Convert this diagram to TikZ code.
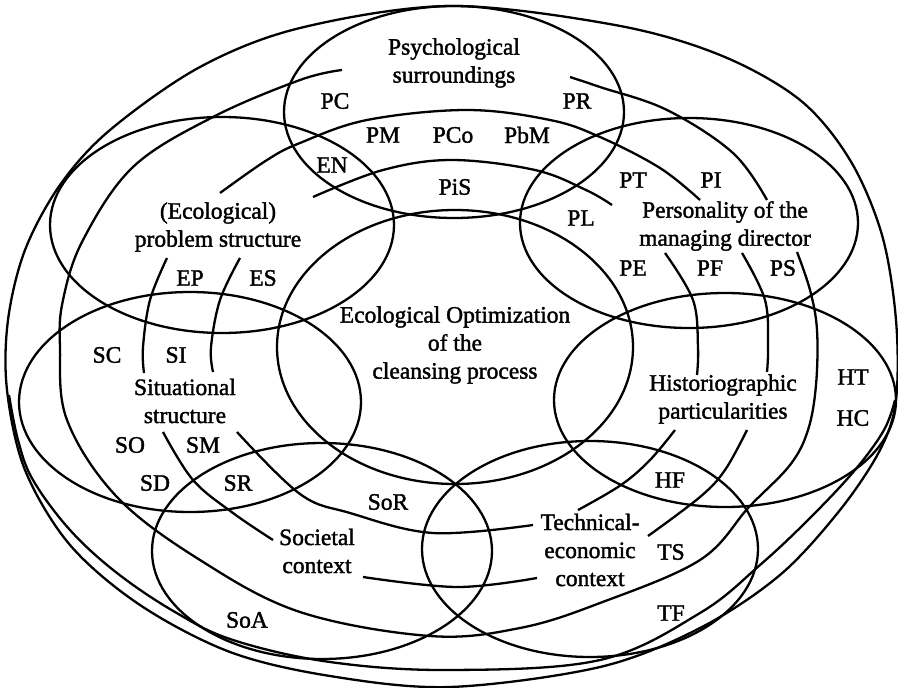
\documentclass[tikz,border=0pt]{standalone}
\usepackage{fontspec}
\setmainfont{Liberation Serif}[FakeBold=1.6]
\usetikzlibrary{positioning}
\newcommand{\lblfont}{\fontsize{23.5}{28}\selectfont}

\begin{document}
\begin{tikzpicture}[x=1pt, y=-1pt,
            zone/.style={draw, line width=2.3pt},
            link/.style={draw, line width=2.3pt, smooth, tension=0.6},
            lbl/.style={inner sep=0pt, align=center, font=\lblfont}]
\useasboundingbox (0,0) rectangle (898,688);

% outer frame
\draw[link, tension=0.55] plot[smooth cycle] coordinates {
  (450,6) (615,25) (720,55) (800,100) (850,160) (882,235) (896,320)
  (896,400) (880,450) (840,510) (780,575) (700,628) (600,667) (450,687)
  (330,676) (230,652) (140,605) (70,545) (25,470) (7,390) (8,320)
  (25,250) (60,185) (110,130) (200,67) (300,28)};
% inner lower rim
\draw[link] plot coordinates {(9,395) (18,440) (33,480) (70,530) (117,573)
  (175,612) (233,640) (330,662) (450,670) (600,660) (700,613) (760,565)
  (810,518) (855,470) (884,430) (895,400)};

% the seven fields
\draw[zone] (454,112) ellipse [x radius=170pt, y radius=106pt];
\draw[zone] (222,225) ellipse [x radius=172pt, y radius=108pt];
\draw[zone] (689,223) ellipse [x radius=169pt, y radius=105pt];
\draw[zone] (455,347) ellipse [x radius=178pt, y radius=137pt];
\draw[zone] (190,402) ellipse [x radius=171pt, y radius=110pt];
\draw[zone] (725,400) ellipse [x radius=171pt, y radius=107pt];
\draw[zone] (322,551) ellipse [x radius=170pt, y radius=108pt];
\draw[zone] (590,549) ellipse [x radius=168pt, y radius=108pt];

% links between the fields
\draw[link] plot coordinates {(342,70) (300,80) (213,117) (133,167) (83,240)
  (63,300) (60,347) (67,420) (117,497) (200,560) (300,612) (430,636)
  (520,628) (600,603) (700,560) (749,507) (790,465) (808,430) (816,385)
  (817,330) (810,290) (797,252)};
\draw[link] plot coordinates {(220,193) (267,160) (300,143) (367,120) (467,110)
  (550,120) (600,137) (660,168) (700,200)};
\draw[link] plot coordinates {(313,197) (383,170) (452,160) (535,170) (586,190) (612,205)};
\draw[link] plot coordinates {(570,77) (600,87) (667,110) (733,153) (767,200)};
\draw[link] plot coordinates {(167,258) (150,300) (143,347) (144,373)};
\draw[link] plot coordinates {(240,258) (220,300) (211,347) (213,372)};
\draw[link] plot coordinates {(163,432) (193,480) (233,513) (273,540)};
\draw[link] plot coordinates {(237,432) (300,494) (350,513) (433,533) (533,525)};
\draw[link] plot coordinates {(363,577) (457,587) (537,578)};
\draw[link] plot coordinates {(665,253) (693,300) (698,347) (697,375)};
\draw[link] plot coordinates {(742,253) (765,300) (768,347) (767,372)};
\draw[link] plot coordinates {(675,430) (650,460) (621,485) (578,510)};
\draw[link] plot coordinates {(747,430) (725,470) (700,497) (648,536)};

% field names
\node[lbl] (psy)  at (454,63)  {Psychological\\surroundings};
\node[lbl] (eco)  at (218,227) {(Ecological)\\problem structure};
\node[lbl] (pers) at (725,226) {Personality of the\\managing director};
\node[lbl] (opt)  at (455,345) {Ecological Optimization\\of the\\cleansing process};
\node[lbl] (sit)  at (185,401) {Situational\\structure};
\node[lbl] (hist) at (723,399) {Historiographic\\particularities};
\node[lbl] (soc)  at (317,551) {Societal\\context};
\node[lbl] (tech) at (590,550) {Technical-\\economic\\context};

% codes
\node[lbl] (pc)  at (335,101) {PC};
\node[lbl] (pr)  at (577,101) {PR};
\node[lbl] (pm)  at (383,135) {PM};
\node[lbl] (pco) at (453,135) {PCo};
\node[lbl] (pbm) at (527,135) {PbM};
\node[lbl] (en)  at (332,165) {EN};
\node[lbl] (pis) at (455,187) {PiS};
\node[lbl] (pl)  at (581,218) {PL};
\node[lbl] (pt)  at (633,180) {PT};
\node[lbl] (pi)  at (711,180) {PI};
\node[lbl] (pe)  at (633,268) {PE};
\node[lbl] (pf)  at (710,268) {PF};
\node[lbl] (ps)  at (783,268) {PS};
\node[lbl] (ep)  at (190,278) {EP};
\node[lbl] (es)  at (263,278) {ES};
\node[lbl] (sc)  at (107,355) {SC};
\node[lbl] (si)  at (176,355) {SI};
\node[lbl] (so)  at (130,445) {SO};
\node[lbl] (sm)  at (203,445) {SM};
\node[lbl] (sd)  at (155,483) {SD};
\node[lbl] (sr)  at (238,483) {SR};
\node[lbl] (sor) at (388,502) {SoR};
\node[lbl] (soa) at (247,620) {SoA};
\node[lbl] (ht)  at (853,377) {HT};
\node[lbl] (hc)  at (853,418) {HC};
\node[lbl] (hf)  at (670,480) {HF};
\node[lbl] (ts)  at (671,552) {TS};
\node[lbl] (tf)  at (671,613) {TF};
\end{tikzpicture}
\end{document}
